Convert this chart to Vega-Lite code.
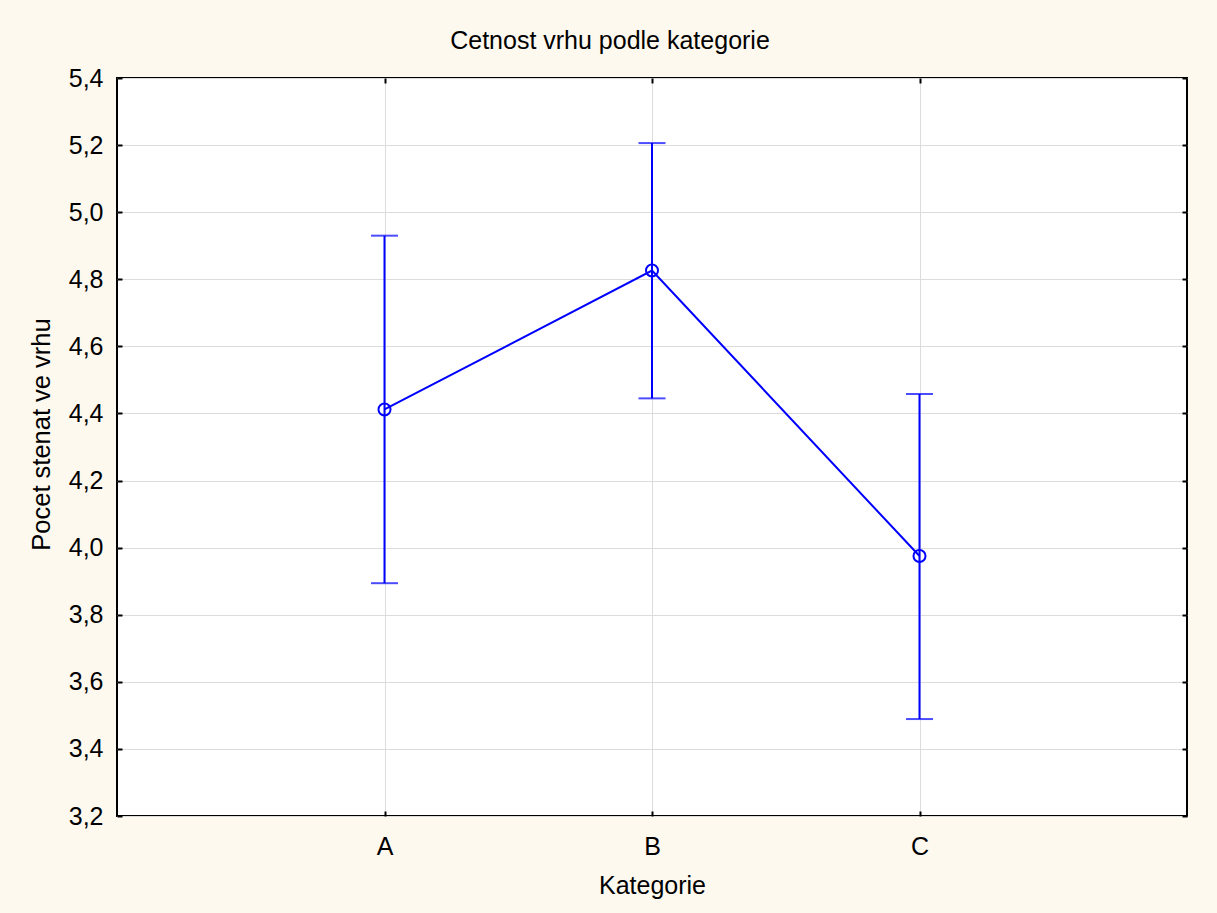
{
  "$schema": "https://vega.github.io/schema/vega-lite/v6.json",
  "width": 1070,
  "height": 738,
  "autosize": {"type": "none"},
  "padding": {"left": 117, "top": 78, "right": 30, "bottom": 97},
  "background": "#fdf9ef",
  "title": {
    "text": "Cetnost vrhu podle kategorie",
    "font": "Liberation Sans",
    "fontSize": 25,
    "fontWeight": "normal",
    "color": "#000000",
    "dx": -42,
    "offset": 12
  },
  "config": {
    "view": {"fill": "#ffffff", "stroke": "#000000", "strokeWidth": 2},
    "axis": {
      "domain": false,
      "labelFont": "Liberation Sans",
      "labelFontSize": 25,
      "labelColor": "#000000",
      "titleFont": "Liberation Sans",
      "titleFontSize": 25,
      "titleFontWeight": "normal",
      "titleColor": "#000000",
      "tickColor": "#000000",
      "tickSize": -5,
      "tickWidth": 2,
      "gridColor": "#dcdcdc",
      "gridWidth": 1
    }
  },
  "data": {
    "values": [
      {"kat": "A", "mean": 4.412, "lo": 3.894, "hi": 4.930},
      {"kat": "B", "mean": 4.826, "lo": 4.445, "hi": 5.206},
      {"kat": "C", "mean": 3.975, "lo": 3.489, "hi": 4.458}
    ]
  },
  "layer": [
    {
      "mark": {"type": "rule", "color": "#0000ff", "strokeWidth": 2},
      "encoding": {
        "x": {
          "field": "kat", "type": "nominal",
          "scale": {"type": "point", "padding": 1},
          "axis": {"orient": "bottom", "title": "Kategorie", "labelAngle": 0, "labelPadding": 23, "titlePadding": 14, "grid": true}
        },
        "y": {
          "field": "lo", "type": "quantitative",
          "scale": {"domain": [3.2, 5.4], "nice": false, "zero": false},
          "axis": {
            "orient": "left",
            "title": "Pocet stenat ve vrhu",
            "titleFontSize": 25.5,
            "titleY": 356,
            "values": [3.2, 3.4, 3.6, 3.8, 4.0, 4.2, 4.4, 4.6, 4.8, 5.0, 5.2, 5.4],
            "labelExpr": "replace(format(datum.value, '.1f'), '.', ',')",
            "labelPadding": 19,
            "titlePadding": 14,
            "grid": true
          }
        },
        "y2": {"field": "hi"}
      }
    },
    {
      "mark": {"type": "tick", "color": "#0000ff", "size": 27, "thickness": 2},
      "encoding": {
        "x": {
          "field": "kat", "type": "nominal",
          "axis": {"orient": "top", "title": null, "labels": false, "grid": false}
        },
        "y": {
          "field": "hi", "type": "quantitative",
          "axis": {
            "orient": "right", "title": null, "labels": false, "grid": false,
            "values": [3.2, 3.4, 3.6, 3.8, 4.0, 4.2, 4.4, 4.6, 4.8, 5.0, 5.2, 5.4]
          }
        }
      }
    },
    {
      "mark": {"type": "tick", "color": "#0000ff", "size": 27, "thickness": 2},
      "encoding": {
        "x": {"field": "kat", "type": "nominal", "axis": null},
        "y": {"field": "lo", "type": "quantitative", "axis": null}
      }
    },
    {
      "mark": {"type": "line", "color": "#0000ff", "strokeWidth": 2},
      "encoding": {
        "x": {"field": "kat", "type": "nominal", "axis": null},
        "y": {"field": "mean", "type": "quantitative", "axis": null}
      }
    },
    {
      "mark": {"type": "point", "shape": "circle", "filled": false, "color": "#0000ff", "size": 144, "strokeWidth": 2, "opacity": 1},
      "encoding": {
        "x": {"field": "kat", "type": "nominal", "axis": null},
        "y": {"field": "mean", "type": "quantitative", "axis": null}
      }
    }
  ],
  "resolve": {"axis": {"x": "independent", "y": "independent"}}
}
